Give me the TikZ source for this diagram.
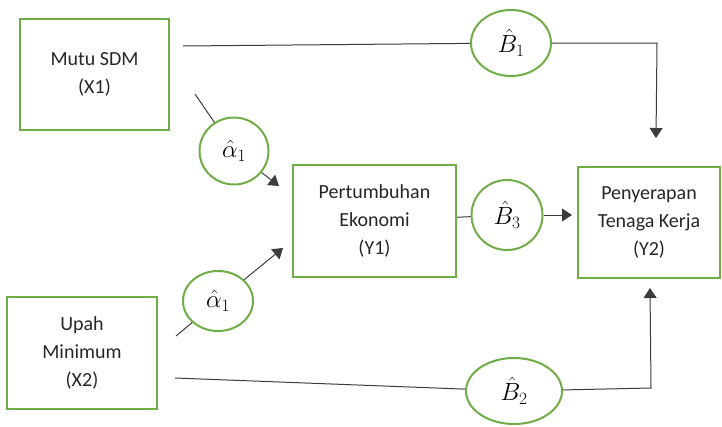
\documentclass[tikz,border=0pt]{standalone}
\usepackage{fontspec}
\setmainfont{Carlito}
\usetikzlibrary{arrows.meta,shapes.geometric}
\definecolor{boxgreen}{RGB}{112,173,71}
\definecolor{linegray}{RGB}{60,60,60}

\begin{document}
\begin{tikzpicture}[x=1pt,y=-1pt,
    var/.style={draw=boxgreen,line width=2pt,align=center,inner sep=0pt,
      font=\fontsize{20}{28}\selectfont,text=black!85},
    coef/.style={ellipse,draw=boxgreen,line width=2pt,inner sep=0pt,
      font=\fontsize{25}{28}\selectfont},
    link/.style={draw=linegray,line width=1pt},
    linkarr/.style={link,-{Triangle[length=10pt,width=13pt]}}]
      \useasboundingbox (0,0) rectangle (722,426);
      % variables
      \node[var,minimum width=149,minimum height=111] (x1) at (94.5,74.5) {Mutu SDM\\(X1)};
      \node[var,minimum width=150,minimum height=112] (x2) at (82,353) {Upah\\Minimum\\(X2)};
      \node[var,minimum width=163,minimum height=112] (y1) at (374.5,221) {Pertumbuhan\\Ekonomi\\(Y1)};
      \node[var,minimum width=142,minimum height=111] (y2) at (649,222.5) {Penyerapan\\Tenaga Kerja\\(Y2)};
      % coefficients
      \node[coef,minimum width=80,minimum height=66] (b1) at (511,43) {$\hat{B}_1$};
      \node[coef,minimum width=69,minimum height=67] (a1) at (234,151) {$\hat{\alpha}_1$};
      \node[coef,minimum width=70,minimum height=60] (a2) at (218,301) {$\hat{\alpha}_1$};
      \node[coef,minimum width=71,minimum height=70] (b3) at (507,215) {$\hat{B}_3$};
      \node[coef,minimum width=96,minimum height=66] (b2) at (514,391) {$\hat{B}_2$};
      % free ends
      \coordinate (t0) at (183,46);
      \coordinate (t1) at (657,43);
      \coordinate (t2) at (656,138);
      \coordinate (u0) at (195,94);
      \coordinate (u1) at (279,186);
      \coordinate (v0) at (176,336);
      \coordinate (v1) at (283,248);
      \coordinate (w0) at (175,378);
      \coordinate (w1) at (651,388);
      \coordinate (w2) at (650,288);
      % connectors
      \draw[link] (t0) -- (b1);
      \draw[linkarr] (b1) -- (t1) -- (t2);
      \draw[link] (u0) -- (a1);
      \draw[linkarr] (a1) -- (u1);
      \draw[link] (v0) -- (a2);
      \draw[linkarr] (a2) -- (v1);
      \draw[link] (y1) -- (b3);
      \draw[linkarr,shorten >=5pt] (b3.east) -- (y2.west |- b3.east);
      \draw[link] (w0) -- (b2);
      \draw[linkarr] (b2) -- (w1) -- (w2);
\end{tikzpicture}
\end{document}
